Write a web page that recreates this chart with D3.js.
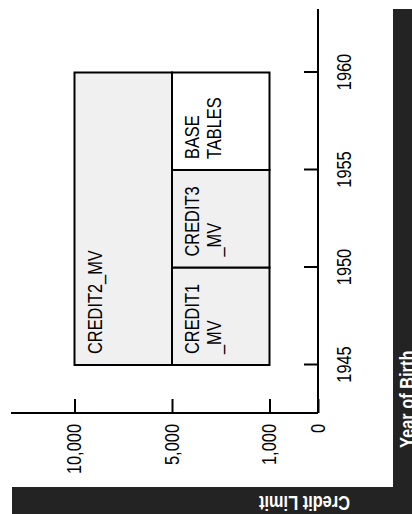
<!DOCTYPE html>
<html>
<head>
<meta charset="utf-8">
<script src="https://cdn.jsdelivr.net/npm/d3@7"></script>
<style>
	body { margin: 0; background: #fff; }
	svg { display: block; font-family: "Liberation Sans", Arial, Helvetica, sans-serif; }
</style>
</head>
<body>
<svg id="chart" width="412" height="514"></svg>
<script>
// chart values
const yearTicks = [1945, 1950, 1955, 1960];
const creditTicks = [0, 1000, 5000, 10000];
const tableLines = [["CREDIT1", "_MV"], ["CREDIT3", "_MV"], ["BASE", "TABLES"], ["CREDIT2_MV"]];
const yearFrom = [1945, 1950, 1955, 1945];
const yearTo = [1950, 1955, 1960, 1960];
const creditFrom = [1000, 1000, 1000, 5000];
const creditTo = [5000, 5000, 5000, 10000];
const materialized = [true, true, false, true];

const w = 514;   // unrotated width
const h = 412;   // unrotated height
const squeeze = 0.82;   // type is narrower than it is tall
const origin = { x: 101, y: 318 };

const tables = tableLines.map((lines, i) => ({
	lines,
	y0: yearFrom[i], y1: yearTo[i],
	c0: creditFrom[i], c1: creditTo[i],
	mv: materialized[i]
}));

const xScale = d3.scaleLinear()
	.domain([1945, 1960])
	.range([149, 441.5]);

// uneven credit steps, each tick one step apart
const yScale = d3.scaleLinear()
	.domain(creditTicks)
	.range([318, 269.5, 172, 74.5]);

const svg = d3.select('#chart');

// whole chart is turned a quarter left
const g = svg.append('g')
	.attr('transform', `translate(0, ${w}) rotate(-90)`);

g.append('rect')
	.attr('x', 0).attr('y', 393)
	.attr('width', 505).attr('height', 25)
	.attr('fill', '#232323');

g.append('rect')
	.attr('x', 0).attr('y', 12)
	.attr('width', 27).attr('height', h)
	.attr('fill', '#232323');

g.append('text')
	.attr('transform', `translate(66, 414) scale(${squeeze}, 1)`)
	.attr('fill', '#fff')
	.attr('font-weight', 'bold')
	.attr('font-size', 20)
	.text('Year of Birth');

g.append('text')
	.attr('transform', `translate(18, 350) rotate(-90) scale(${squeeze}, 1)`)
	.attr('fill', '#fff')
	.attr('font-weight', 'bold')
	.attr('font-size', 20)
	.text('Credit Limit');

// blocks
const block = g.selectAll('.block')
	.data(tables)
	.enter()
	.append('g')
	.attr('class', 'block');

block.append('rect')
	.attr('x', d => xScale(d.y0))
	.attr('y', d => yScale(d.c1))
	.attr('width', d => xScale(d.y1) - xScale(d.y0))
	.attr('height', d => yScale(d.c0) - yScale(d.c1))
	.attr('fill', d => d.mv ? '#f0f0f0' : '#fff')
	.attr('stroke', '#000')
	.attr('stroke-width', 2);

block.append('text')
	.attr('transform', d => `translate(${xScale(d.y0) + 11}, ${yScale(d.c1) + 27}) scale(${squeeze}, 1)`)
	.attr('font-size', 20)
	.selectAll('tspan')
	.data(d => d.lines)
	.enter()
	.append('tspan')
	.attr('x', 0)
	.attr('dy', (d, i) => i ? 21.6 : 0)
	.text(d => d);

const fixText = (sel) => {
	sel.selectAll('text').each(function () {
		const t = d3.select(this);
		const x = +t.attr('x') || 0;
		t.attr('x', 0)
			.attr('transform', `translate(${x}, 0) scale(${squeeze}, 1)`)
			.attr('font-size', 20)
			.attr('fill', '#000');
	});
	sel.selectAll('line').attr('stroke', '#000').attr('stroke-width', 2);
	sel.select('.domain').remove();
};

const xAxis = d3.axisBottom(xScale)
	.tickValues(yearTicks)
	.tickSizeInner(-14)
	.tickSizeOuter(0)
	.tickPadding(19)
	.tickFormat(d3.format('d'));

g.append('g')
	.attr('id', 'x-axis')
	.attr('transform', `translate(0, ${origin.y})`)
	.call(xAxis)
	.call(fixText);

const yAxis = d3.axisLeft(yScale)
	.tickValues(creditTicks)
	.tickSizeInner(-14)
	.tickSizeOuter(0)
	.tickPadding(11)
	.tickFormat(d3.format(','));

g.append('g')
	.attr('id', 'y-axis')
	.attr('transform', `translate(${origin.x}, 0)`)
	.call(yAxis)
	.call(fixText);

g.append('line')
	.attr('x1', origin.x).attr('x2', 505)
	.attr('y1', origin.y).attr('y2', origin.y)
	.attr('stroke', '#000').attr('stroke-width', 2);

g.append('line')
	.attr('x1', origin.x).attr('x2', origin.x)
	.attr('y1', origin.y).attr('y2', 11)
	.attr('stroke', '#000').attr('stroke-width', 2);
</script>
</body>
</html>
